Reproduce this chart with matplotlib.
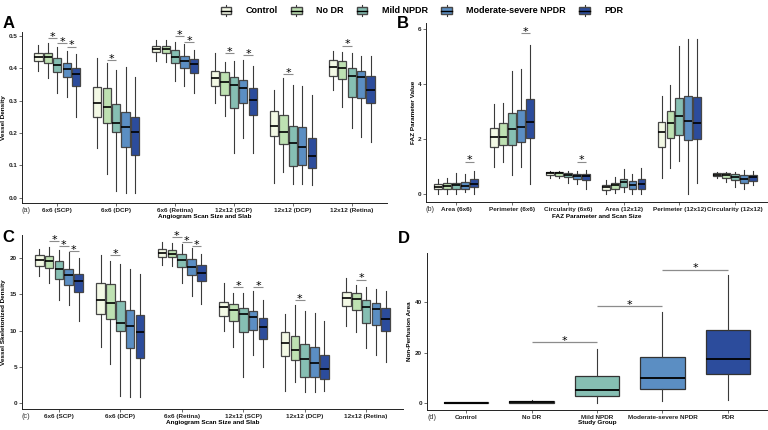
import matplotlib
matplotlib.use("Agg")
import matplotlib.pyplot as plt
from matplotlib.legend_handler import HandlerBase
from matplotlib.patches import Rectangle, Patch
from matplotlib.lines import Line2D

plt.rcParams['font.family'] = ['Liberation Sans', 'DejaVu Sans']

# ---------------- data ----------------
GROUPS = ["Control", "No DR", "Mild NPDR", "Moderate-severe NPDR", "PDR"]
COLORS = ["#F3F9E5", "#BEE1B2", "#86BFB3", "#5B8EC3", "#2C4C9C"]

A_labels = ["6x6 (SCP)", "6x6 (DCP)", "6x6 (Retina)", "12x12 (SCP)", "12x12 (DCP)", "12x12 (Retina)"]
A_lo = [[0.393, 0.369, 0.325, 0.312, 0.250], [0.155, 0.072, 0.022, 0.015, 0.015],
        [0.421, 0.418, 0.361, 0.345, 0.323], [0.294, 0.254, 0.139, 0.184, 0.139],
        [0.044, 0.080, 0.042, 0.042, 0.039], [0.333, 0.279, 0.214, 0.189, 0.173]]
A_q1 = [[0.423, 0.415, 0.387, 0.374, 0.346], [0.248, 0.230, 0.204, 0.156, 0.132],
        [0.450, 0.448, 0.415, 0.402, 0.385], [0.345, 0.318, 0.276, 0.292, 0.256],
        [0.191, 0.165, 0.099, 0.101, 0.093], [0.376, 0.366, 0.310, 0.309, 0.292]]
A_med = [[0.436, 0.436, 0.410, 0.399, 0.381], [0.294, 0.279, 0.230, 0.218, 0.204],
         [0.459, 0.459, 0.436, 0.421, 0.413], [0.371, 0.359, 0.348, 0.338, 0.302],
         [0.222, 0.204, 0.168, 0.156, 0.129], [0.405, 0.400, 0.376, 0.372, 0.333]]
A_q3 = [[0.447, 0.447, 0.431, 0.415, 0.402], [0.341, 0.338, 0.289, 0.265, 0.250],
        [0.470, 0.468, 0.455, 0.439, 0.428], [0.392, 0.387, 0.372, 0.364, 0.338],
        [0.269, 0.256, 0.222, 0.218, 0.184], [0.426, 0.421, 0.400, 0.390, 0.376]]
A_hi = [[0.472, 0.477, 0.465, 0.454, 0.444], [0.431, 0.415, 0.395, 0.405, 0.374],
        [0.488, 0.488, 0.482, 0.475, 0.457], [0.446, 0.418, 0.421, 0.426, 0.408],
        [0.333, 0.369, 0.348, 0.345, 0.318], [0.454, 0.451, 0.446, 0.438, 0.438]]
A_sig = [(0, 1, 2, 0.493), (0, 2, 3, 0.479), (0, 3, 4, 0.467), (1, 1, 2, 0.424),
         (2, 2, 3, 0.500), (2, 3, 4, 0.482), (3, 1, 2, 0.446), (3, 3, 4, 0.441),
         (4, 1, 2, 0.382), (5, 1, 2, 0.470)]

B_labels = ["Area (6x6)", "Perimeter (6x6)", "Circularity (6x6)", "Area (12x12)",
            "Perimeter (12x12)", "Circularity (12x12)"]
B_lo = [[0.0, 0.0, 0.0, 0.07, 0.0], [0.96, 1.17, 0.68, 0.96, 0.34],
        [0.58, 0.56, 0.38, 0.34, 0.19], [0.0, 0.04, 0.07, 0.0, 0.0],
        [0.56, 0.92, 1.20, 0.0, 0.40], [0.56, 0.44, 0.26, 0.16, 0.32]]
B_q1 = [[0.17, 0.17, 0.16, 0.19, 0.23], [1.71, 1.76, 1.77, 1.89, 2.04],
        [0.68, 0.66, 0.60, 0.55, 0.50], [0.13, 0.19, 0.26, 0.19, 0.19],
        [1.71, 2.04, 2.14, 1.96, 1.98], [0.64, 0.56, 0.50, 0.40, 0.47]]
B_med = [[0.25, 0.28, 0.32, 0.29, 0.34], [2.08, 2.08, 2.34, 2.44, 2.60],
         [0.74, 0.74, 0.68, 0.64, 0.64], [0.26, 0.32, 0.41, 0.32, 0.35],
         [2.26, 2.59, 2.84, 2.66, 2.59], [0.70, 0.68, 0.62, 0.52, 0.62]]
B_q3 = [[0.34, 0.38, 0.40, 0.44, 0.52], [2.38, 2.59, 2.93, 3.04, 3.44],
        [0.80, 0.80, 0.77, 0.72, 0.72], [0.32, 0.40, 0.52, 0.46, 0.53],
        [2.60, 3.01, 3.47, 3.56, 3.51], [0.74, 0.74, 0.72, 0.68, 0.68]]
B_hi = [[0.52, 0.56, 0.74, 0.72, 0.84], [3.26, 3.29, 4.48, 4.54, 5.42],
        [0.84, 0.84, 0.84, 0.84, 0.86], [0.50, 0.62, 0.89, 0.72, 0.95],
        [3.56, 3.96, 5.36, 5.64, 5.64], [0.79, 0.80, 0.80, 0.86, 0.84]]
B_sig = [(0, 3, 4, 1.17), (1, 3, 4, 5.84), (2, 3, 4, 1.17)]

C_lo = [[17.5, 16.6, 14.2, 13.55, 11.36], [7.8, 5.45, 1.0, 0.82, 0.82],
        [19.0, 18.95, 16.6, 14.77, 13.64], [10.0, 7.73, 3.64, 6.6, 5.0],
        [1.68, 2.95, 1.6, 1.6, 1.72], [10.7, 9.86, 7.6, 6.59, 5.68]]
C_q1 = [[18.95, 18.64, 17.18, 16.36, 15.3], [12.36, 11.6, 10.0, 7.6, 6.27],
        [20.23, 20.23, 18.77, 17.64, 16.8], [12.05, 11.36, 9.77, 10.14, 8.86],
        [6.45, 5.9, 3.55, 3.55, 3.27], [13.4, 12.86, 11.05, 10.77, 10.0]]
C_med = [[19.77, 19.64, 18.55, 17.73, 16.8], [14.3, 13.86, 11.1, 10.7, 9.77],
         [20.77, 20.6, 19.77, 18.73, 17.95], [13.27, 12.82, 12.27, 11.9, 10.55],
         [8.32, 7.4, 6.13, 5.55, 4.68], [14.55, 14.32, 13.32, 12.95, 11.68]]
C_q3 = [[20.45, 20.36, 19.55, 18.55, 17.86], [16.6, 16.45, 14.1, 12.8, 12.1],
        [21.27, 21.2, 20.55, 19.86, 19.09], [13.95, 13.73, 13.09, 12.73, 11.82],
        [9.87, 9.23, 8.18, 7.72, 6.59], [15.32, 15.14, 14.23, 13.77, 13.1]]
C_hi = [[21.27, 21.6, 21.1, 20.8, 20.0], [20.5, 19.55, 19.2, 18.55, 17.86],
        [22.2, 22.05, 21.9, 21.45, 20.55], [16.6, 15.14, 15.23, 15.45, 14.3],
        [12.3, 13.55, 12.7, 12.5, 11.36], [17.27, 16.37, 16.0, 15.82, 15.45]]
C_sig = [(0, 1, 2, 22.4), (0, 2, 3, 21.68), (0, 3, 4, 21.0), (1, 1, 2, 20.45),
         (2, 1, 2, 22.95), (2, 2, 3, 22.27), (2, 3, 4, 21.68), (3, 1, 2, 16.0),
         (3, 3, 4, 16.0), (4, 1, 2, 14.23), (5, 1, 2, 17.05)]

D_lo = [0.0, 0.0, 0.0, 0.8, 1.3]
D_q1 = [0.0, 0.0, 2.66, 5.58, 11.4]
D_med = [0.1, 0.3, 5.3, 9.97, 17.3]
D_q3 = [0.3, 0.8, 10.6, 18.2, 29.0]
D_hi = [0.5, 1.3, 21.3, 35.9, 50.9]
D_sig = [(1, 2, 24.05), (2, 3, 38.5), (3, 4, 52.9)]

# ---------------- style ----------------
EDGE = "#474747"
WHISK = "#3a3a3a"
SIGC = "#8c8c8c"
TICKFS = 4.6
TITLEFS = 4.6
DODGE = 0.16
BOXW = 0.14

W, H = 768, 430
fig = plt.figure(figsize=(W / 100, H / 100), dpi=100)


def rect(l, r, t, b):
    return [l / W, 1 - b / H, (r - l) / W, (b - t) / H]


def style_axes(ax):
    for s in ["top", "right"]:
        ax.spines[s].set_visible(False)
    for s in ["left", "bottom"]:
        ax.spines[s].set_linewidth(0.7)
        ax.spines[s].set_color("#222222")
    ax.tick_params(axis="both", length=2, width=0.5, color="#333333", pad=1.5,
                   labelsize=TICKFS, labelcolor="#222222")
    for lab in ax.get_xticklabels() + ax.get_yticklabels():
        lab.set_fontweight("bold")


def star(ax, x1, x2, y, lw=0.8):
    ax.plot([x1, x2], [y, y], color=SIGC, lw=lw, clip_on=False, solid_capstyle="butt")
    ax.annotate("*", xy=((x1 + x2) / 2, y), xytext=(0, -1.3), textcoords="offset points",
                ha="center", va="baseline", fontsize=8, color="black",
                family="DejaVu Sans", annotation_clip=False)


def grouped_panel(ax, labels, lo, q1, med, q3, hi, sig):
    for g in range(len(labels)):
        stats = []
        pos = []
        for j in range(5):
            stats.append(dict(med=med[g][j], q1=q1[g][j], q3=q3[g][j],
                              whislo=lo[g][j], whishi=hi[g][j], fliers=[]))
            pos.append(g + 1 + (j - 2) * DODGE)
        bp = ax.bxp(stats, positions=pos, widths=BOXW, patch_artist=True,
                    showfliers=False, showcaps=False, manage_ticks=False,
                    boxprops=dict(edgecolor=EDGE, linewidth=0.9),
                    medianprops=dict(color="black", linewidth=1.2, solid_capstyle="butt"),
                    whiskerprops=dict(color=WHISK, linewidth=0.8))
        for patch, c in zip(bp["boxes"], COLORS):
            patch.set_facecolor(c)
    for g, a, b, y in sig:
        star(ax, g + 1 + (a - 2) * DODGE, g + 1 + (b - 2) * DODGE, y)
    ax.set_xticks(range(1, len(labels) + 1))
    ax.set_xticklabels(labels)
    ax.set_xlim(0.4, 6.6)


# Panel A
axA = fig.add_axes(rect(22, 387, 31.7, 202.7))
grouped_panel(axA, A_labels, A_lo, A_q1, A_med, A_q3, A_hi, A_sig)
axA.set_ylim(-0.0155, 0.513)
axA.set_yticks([0.0, 0.1, 0.2, 0.3, 0.4, 0.5])
axA.set_yticklabels(["0.0", "0.1", "0.2", "0.3", "0.4", "0.5"])
axA.set_ylabel("Vessel Density", fontsize=TITLEFS, fontweight="bold")
axA.set_xlabel("Angiogram Scan Size and Slab", fontsize=TITLEFS, fontweight="bold")
style_axes(axA)
axA.yaxis.set_label_coords(-0.045, 0.5)
axA.xaxis.set_label_coords(0.5, -0.066)

# Panel B
axB = fig.add_axes(rect(426, 767, 23.3, 202))
grouped_panel(axB, B_labels, B_lo, B_q1, B_med, B_q3, B_hi, B_sig)
axB.set_xlim(0.46, 6.57)
axB.set_ylim(-0.3, 6.2)
axB.set_yticks([0, 2, 4, 6])
axB.set_ylabel("FAZ Parameter Value", fontsize=TITLEFS, fontweight="bold")
axB.set_xlabel("FAZ Parameter and Scan Size", fontsize=TITLEFS, fontweight="bold")
style_axes(axB)
axB.yaxis.set_label_coords(-0.03, 0.5)
axB.xaxis.set_label_coords(0.5, -0.065)

# Panel C
axC = fig.add_axes(rect(22, 403, 235, 409))
grouped_panel(axC, A_labels, C_lo, C_q1, C_med, C_q3, C_hi, C_sig)
axC.set_ylim(-0.8, 23.2)
axC.set_yticks([0, 5, 10, 15, 20])
axC.set_ylabel("Vessel Skeletonized Density", fontsize=TITLEFS, fontweight="bold")
axC.set_xlabel("Angiogram Scan Size and Slab", fontsize=TITLEFS, fontweight="bold")
style_axes(axC)
axC.yaxis.set_label_coords(-0.043, 0.5)
axC.xaxis.set_label_coords(0.5, -0.063)

# Panel D
axD = fig.add_axes(rect(427, 767, 253, 410))
statsD = [dict(med=D_med[j], q1=D_q1[j], q3=D_q3[j], whislo=D_lo[j], whishi=D_hi[j],
               fliers=[]) for j in range(5)]
bpD = axD.bxp(statsD, positions=range(1, 6), widths=0.68, patch_artist=True,
              showfliers=False, showcaps=False, manage_ticks=False,
              boxprops=dict(edgecolor="#333333", linewidth=0.9),
              medianprops=dict(color="black", linewidth=1.3, solid_capstyle="butt"),
              whiskerprops=dict(color=WHISK, linewidth=0.8))
for patch, c in zip(bpD["boxes"], COLORS):
    patch.set_facecolor(c)
for a, b, y in D_sig:
    star(axD, a + 1, b + 1, y, lw=0.9)
axD.set_xticks(range(1, 6))
axD.set_xticklabels(GROUPS)
axD.set_xlim(0.4, 5.6)
axD.set_ylim(-2.8, 59.5)
axD.set_yticks([0, 20, 40])
axD.set_ylabel("Non-Perfusion Area", fontsize=TITLEFS, fontweight="bold")
axD.set_xlabel("Study Group", fontsize=TITLEFS, fontweight="bold")
style_axes(axD)
axD.yaxis.set_label_coords(-0.044, 0.5)
axD.xaxis.set_label_coords(0.5, -0.066)

# sub-labels (a)-(d)
for ax, t in [(axA, "(a)"), (axB, "(b)"), (axC, "(c)"), (axD, "(d)")]:
    ax.text(0.0, -0.025, t, transform=ax.transAxes, ha="left", va="top",
            fontsize=5.2, color="#333333")

# panel letters
for t, x, y in [("A", 3, 28), ("B", 397, 28), ("C", 2, 242), ("D", 398, 243)]:
    fig.text(x / W, 1 - y / H, t, fontsize=12, fontweight="bold", ha="left",
             va="baseline")


# legend
class BoxHandler(HandlerBase):
    def create_artists(self, legend, orig_handle, xdescent, ydescent, width, height,
                       fontsize, trans):
        fc = orig_handle.get_facecolor()
        x0, y0 = -xdescent, -ydescent
        r = Rectangle((x0, y0 + 0.2 * height), width, 0.6 * height, facecolor=fc,
                      edgecolor=EDGE, lw=1.0, transform=trans)
        m = Line2D([x0, x0 + width], [y0 + 0.5 * height] * 2, color="black", lw=1.0,
                   transform=trans)
        w1 = Line2D([x0 + width / 2] * 2, [y0 + 0.8 * height, y0 + height], color=WHISK,
                    lw=0.8, transform=trans)
        w2 = Line2D([x0 + width / 2] * 2, [y0, y0 + 0.2 * height], color=WHISK, lw=0.8,
                    transform=trans)
        return [w1, w2, r, m]


handles = [Patch(facecolor=c) for c in COLORS]
fig.legend(handles, GROUPS, handler_map={Patch: BoxHandler()}, loc="center",
           bbox_to_anchor=(422 / W, 1 - 10.5 / H), ncol=5, frameon=False,
           prop=dict(size=6.5, weight="bold"), handlelength=1.15, handleheight=1.6,
           handletextpad=1.6, columnspacing=1.5, borderaxespad=0, borderpad=0)

fig.savefig("out.png", dpi=100, facecolor="white")
